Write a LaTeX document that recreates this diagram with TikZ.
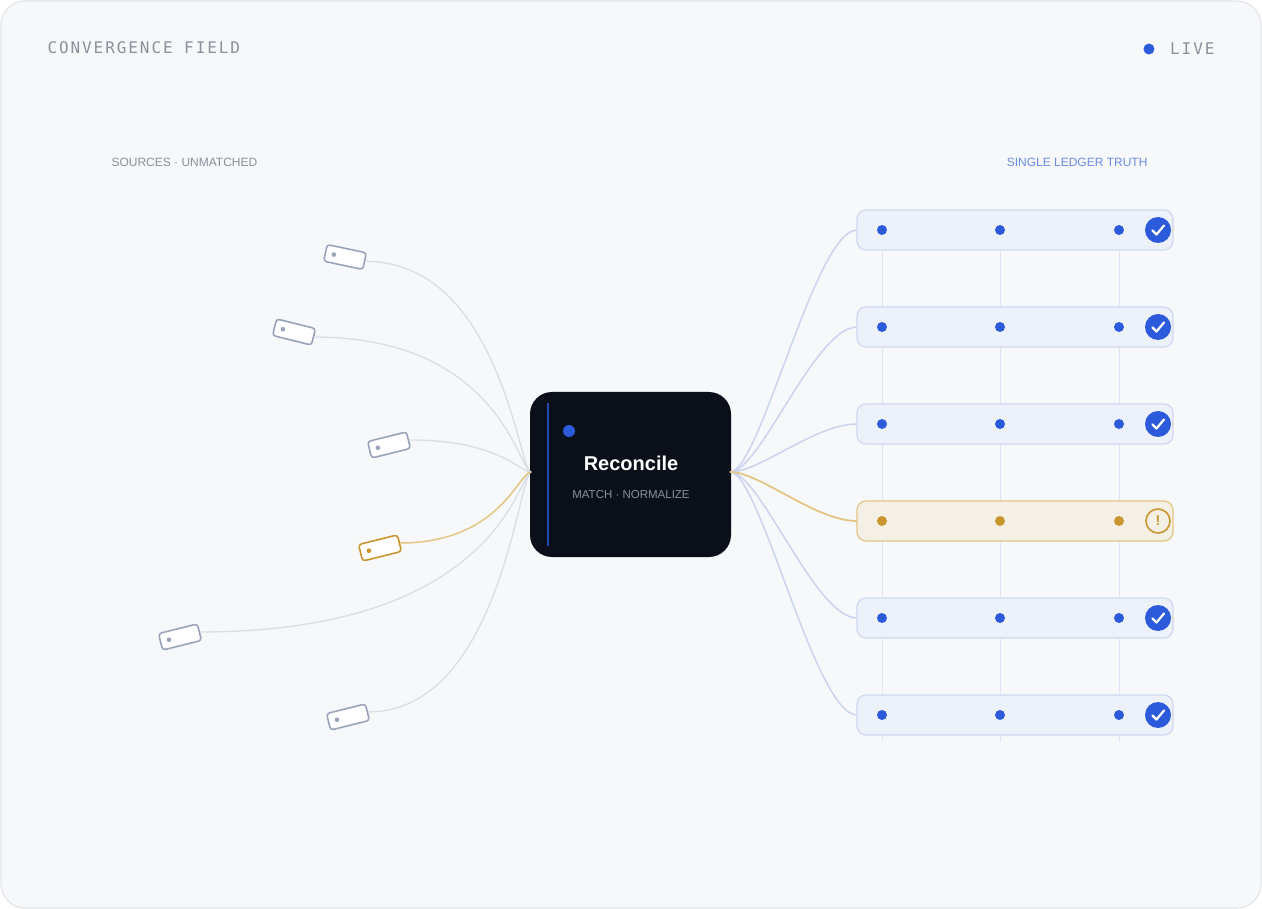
\documentclass[tikz,border=0pt]{standalone}
\usepackage{fontspec}
\setmainfont{Liberation Sans}
\newfontfamily\titlemono{DejaVu Sans Mono}[LetterSpace=12]
\usetikzlibrary{positioning}
\usetikzlibrary{calc}
\definecolor{paper}{HTML}{F6F8FA}
\definecolor{frame}{HTML}{E2E5EA}
\definecolor{ink}{HTML}{0B0F19}
\definecolor{accent}{HTML}{2B5BDB}
\definecolor{muted}{HTML}{8A909C}
\definecolor{wire}{HTML}{D9DDE6}
\definecolor{bluewire}{HTML}{CBD3EE}
\definecolor{rowfill}{HTML}{EDF1FA}
\definecolor{rowline}{HTML}{CFD8F0}
\definecolor{gold}{HTML}{C8952F}
\definecolor{goldwire}{HTML}{E4C583}
\definecolor{goldfill}{HTML}{F5F0E6}
\definecolor{chipline}{HTML}{9AA3BA}
\tikzset{
  chip/.style={draw=#1, line width=1.6pt, fill=white, rounded corners=3pt, minimum width=40pt, minimum height=17pt, inner sep=0pt},
  ledgerrow/.style={draw=rowline, line width=1.2pt, fill=rowfill, rounded corners=9pt, minimum width=316pt, minimum height=40pt, inner sep=0pt},
  goldrow/.style={draw=goldwire, line width=1.2pt, fill=goldfill, rounded corners=9pt, minimum width=316pt, minimum height=40pt, inner sep=0pt},
  pip/.style={circle, fill=#1, inner sep=0pt, minimum size=10pt},
  sidelabel/.style={font=\fontsize{12}{14}\selectfont, anchor=west},
}
\begin{document}
\begin{tikzpicture}[x=1pt, y=-1pt]
	\useasboundingbox (0,0) rectangle (1262,909);
	\draw[frame, fill=paper, line width=1.2pt, rounded corners=24pt] (1,1) rectangle (1261,908);
	% header
	\node[anchor=west, text=muted, font=\titlemono\fontsize{16}{18}\selectfont] (title) at (44,48) {CONVERGENCE FIELD};
	\node[anchor=east, text=muted, font=\titlemono\fontsize{16}{18}\selectfont] (live) at (1218,49) {LIVE};
	\node[pip=accent, left=12pt of live, minimum size=11pt] (livedot) {};
	\node[sidelabel, text=muted] (srclabel) at (108,162) {SOURCES · UNMATCHED};
	\node[sidelabel, text=accent!70, anchor=east] (truthlabel) at (1151,162) {SINGLE LEDGER TRUTH};
	% hub
	\node[fill=ink, rounded corners=22pt, minimum width=201pt, minimum height=165pt, inner sep=0pt] (hub) at (630.5,474.5) {};
	\draw[accent!80!black, line width=2.5pt] (548,403) -- (548,546);
	\node[pip=accent, minimum size=12pt] (hubdot) at (569,431) {};
	\node[text=white, font=\bfseries\fontsize{20}{22}\selectfont] (hubname) at (631,463) {Reconcile};
	\node[text=muted, font=\fontsize{11.5}{13}\selectfont] (hubsub) at (631,495) {MATCH · NORMALIZE};
	\coordinate (in) at (531,472);
	\coordinate (out) at (730,472);
	\coordinate (lc) at (500,472);
	\coordinate (rc) at (815,472);
	% ledger columns
	\foreach \cx in {882,1000,1119}
		\draw[rowline!70, line width=1pt] (\cx,210) -- (\cx,742);
	% sources
	\foreach \name/\sx/\sy/\ang in {s1/345/257/-12, s2/294/332/-14, s3/389/445/14, s5/180/637/14, s6/348/717/14}{
		\node[chip=chipline, rotate=\ang] (\name) at (\sx,\sy) {};
		\fill[chipline] ($(\name.center)!0.55!(\name.west)$) circle (2.3pt);
		\draw[wire, line width=1.3pt] (\name.east) .. controls (\name.east -| lc) and ($(in)+(-12,0)$) .. (in);
	}
	\node[chip=gold, rotate=14] (s4) at (380,548) {};
	\fill[gold] ($(s4.center)!0.55!(s4.west)$) circle (2.3pt);
	\draw[goldwire, line width=1.5pt] (s4.east) .. controls (s4.east -| lc) and ($(in)+(-12,0)$) .. (in);
	% ledger rows
	\foreach \name/\ry in {r1/230, r2/327, r3/424, r5/618, r6/715}{
		\draw[bluewire, line width=1.5pt] (out) .. controls ($(out)+(30,0)$) and (rc |- 0,\ry) .. (857,\ry);
		\node[ledgerrow] (\name) at (1015,\ry) {};
		\foreach \cx in {882,1000,1119}
			\node[pip=accent] at (\cx,\ry) {};
		\node[circle, fill=accent, minimum size=26pt, inner sep=0pt] (\name ok) at (1158,\ry) {};
		\draw[white, line width=2.2pt, line cap=round, line join=round] ($(\name ok)+(-5.5,0.5)$) -- ($(\name ok)+(-1.5,4.5)$) -- ($(\name ok)+(6,-4.5)$);
	}
	\draw[goldwire, line width=1.8pt] (out) .. controls ($(out)+(30,0)$) and (rc |- 0,521) .. (857,521);
	\node[goldrow] (r4) at (1015,521) {};
	\foreach \cx in {882,1000,1119}
		\node[pip=gold] at (\cx,521) {};
	\node[circle, draw=gold, line width=1.6pt, fill=goldfill, minimum size=24pt, inner sep=0pt, text=gold, font=\bfseries\fontsize{14}{14}\selectfont] (r4warn) at (1158,521) {!};
\end{tikzpicture}
\end{document}
